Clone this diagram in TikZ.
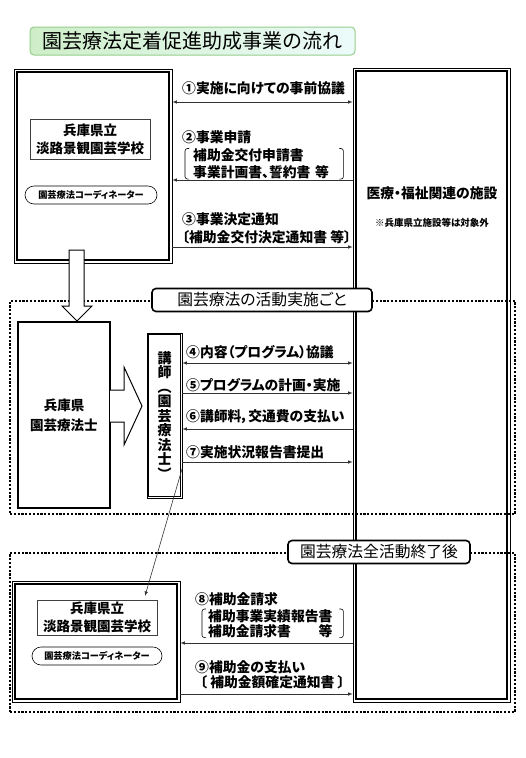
\documentclass[tikz,border=0pt]{standalone}
\usepackage{fontspec}
\setmainfont{Noto Sans CJK JP}[RawFeature=+palt]
\definecolor{vertclair}{RGB}{206,238,200}
\definecolor{cyanclair}{RGB}{236,251,250}
\definecolor{vertbord}{RGB}{150,205,140}
\definecolor{gristrait}{RGB}{50,50,50}

\begin{document}
\begin{tikzpicture}[x=1pt,y=-1pt]
		\tikzstyle{titre}=[draw=vertbord,rectangle,rounded corners=4,line width=1pt,left color=vertclair,right color=cyanclair,minimum width=325,minimum height=28,font=\fontsize{20}{22}\selectfont]
		\tikzstyle{etape}=[draw,rectangle,rounded corners=4,line width=1.6pt,fill=white,minimum height=23,font=\fontsize{15.8}{17}\selectfont]
		\tikzstyle{zone}=[draw,rectangle,line width=2.4pt,dash pattern=on 2.2pt off 1.6pt]
		\tikzstyle{cadre}=[draw,rectangle,line width=0.7pt]
		\tikzstyle{epais}=[line width=2pt]
		\tikzstyle{fin}=[line width=0.6pt]
		\tikzstyle{ecole}=[draw=black!75,rectangle,line width=0.6pt,inner sep=1,align=center,font=\fontsize{13.5}{18}\selectfont\bfseries]
		\tikzstyle{coord}=[draw,rectangle,rounded corners=9,line width=0.6pt,inner sep=1,font=\fontsize{9.2}{10}\selectfont\bfseries]
		\tikzstyle{texte}=[inner sep=0,align=left,font=\fontsize{13.8}{17}\selectfont\bfseries]
		\tikzstyle{lien}=[draw=gristrait,line width=0.6pt]
		\tikzstyle{crochet}=[line width=0.6pt,rounded corners=2.5]
		\tikzstyle{creux}=[draw,line width=1pt,fill=white]
		\useasboundingbox (0,0) rectangle (525,758);

		\node[titre] (T) at (192.5,41) {園芸療法定着促進助成事業の流れ};
		\node[zone,minimum width=505,minimum height=213] (Z1) at (262.5,407.5) {};
		\node[zone,minimum width=505,minimum height=159] (Z2) at (262.5,632.5) {};

		\node[cadre,minimum width=158,minimum height=194] (E1) at (93,166) {};
		\draw[epais] ([shift={(3.5,3.5)}]E1.north west) rectangle ([shift={(-3.5,-3.5)}]E1.south east);
		\node[ecole,minimum width=120,minimum height=40] (B1) at (90,139) {兵庫県立\\淡路景観園芸学校};
		\node[coord,minimum width=132,minimum height=18] (C1) at (91,195) {園芸療法コーディネーター};

		\node[cadre,minimum width=157,minimum height=634] (F) at (431.5,385) {};
		\draw[epais] ([shift={(3.5,3.5)}]F.north west) rectangle ([shift={(-3.5,-3.5)}]F.south east);
		\node[texte] (F1) at (432,193) {医療・福祉関連の施設};
		\node[texte,font=\fontsize{9.5}{11}\selectfont\bfseries] (F2) at (432,223) {※兵庫県立施設等は対象外};

		\node[cadre,line width=1.2pt,minimum width=92,minimum height=186,align=center,font=\fontsize{13.5}{20}\selectfont\bfseries] (H) at (64,415) {兵庫県\\園芸療法士};
		\node[cadre,line width=0.6pt,minimum width=35,minimum height=165,inner sep=0,align=center,font=\fontsize{14}{14.5}\selectfont\bfseries] (K) at (164.5,415.5) {講\\師\\︵\\園\\芸\\療\\法\\士\\︶};
		\draw[fin] ([shift={(2,2)}]K.north west) rectangle ([shift={(-2,-2)}]K.south east);

		\node[cadre,minimum width=168,minimum height=121] (E2) at (96,641.5) {};
		\draw[epais] ([shift={(3.5,3.5)}]E2.north west) rectangle ([shift={(-3.5,-3.5)}]E2.south east);
		\node[ecole,minimum width=120,minimum height=35] (B2) at (97,617.5) {兵庫県立\\淡路景観園芸学校};
		\node[coord,minimum width=130,minimum height=18] (C2) at (97,656) {園芸療法コーディネーター};

		\draw[creux] (69,250) -- (69,306) -- (62,306) -- (77,321) -- (92,306) -- (84,306) -- (84,250) -- cycle;
		\draw[creux] (110,390) -- (124,390) -- (124,367) -- (142,406) -- (124,445) -- (124,422) -- (110,422);

		\node[texte,anchor=west] (A1) at (182,88) {①実施に向けての事前協議};
		\draw[lien,latex-latex] (E1.east |- 0,102) -- (F.west |- 0,102);
		\node[texte,anchor=west] (A2) at (182,137) {②事業申請};
		\node[texte,anchor=north west,text width=142,inner xsep=8] (D2) at (185,148.5) {補助金交付申請書\\事業計画書、誓約書 等};
		\draw[crochet] ([xshift=4]D2.north west) -- (D2.north west) -- (D2.south west) -- ([xshift=4]D2.south west);
		\draw[crochet] ([xshift=-4]D2.north east) -- (D2.north east) -- (D2.south east) -- ([xshift=-4]D2.south east);
		\draw[lien,-latex] (F.west |- 0,180) -- (E1.east |- 0,180);
		\node[texte,anchor=west] (A3) at (182,219) {③事業決定通知};
		\node[texte,anchor=west] (D3) at (182,237) {〔補助金交付決定通知書 等〕};
		\draw[lien,-latex] (E1.east |- 0,247) -- (F.west |- 0,247);

		\node[texte,anchor=west] (A4) at (186,352) {④内容（プログラム）協議};
		\draw[lien,latex-latex] (K.east |- 0,363) -- (F.west |- 0,363);
		\node[texte,anchor=west] (A5) at (186,385) {⑤プログラムの計画・実施};
		\draw[lien,-latex] (K.east |- 0,393) -- (F.west |- 0,393);
		\node[texte,anchor=west] (A6) at (186,417) {⑥講師料，交通費の支払い};
		\draw[lien,-latex] (F.west |- 0,429) -- (K.east |- 0,429);
		\node[texte,anchor=west] (A7) at (186,452) {⑦実施状況報告書提出};
		\draw[lien,-latex] (K.east |- 0,462) -- (F.west |- 0,462);

		\coordinate (P) at (145,596);
		\draw[lien,-latex] (K.east |- 0,468) -- (P);

		\node[texte,anchor=west] (A8) at (195,599) {⑧補助金請求};
		\node[texte,anchor=north west,text width=129,inner xsep=6,font=\fontsize{13.8}{15}\selectfont\bfseries] (D8) at (202,609) {補助事業実績報告書\\補助金請求書　　等};
		\draw[crochet] ([xshift=4]D8.north west) -- (D8.north west) -- (D8.south west) -- ([xshift=4]D8.south west);
		\draw[crochet] ([xshift=-4]D8.north east) -- (D8.north east) -- (D8.south east) -- ([xshift=-4]D8.south east);
		\draw[lien,-latex] (F.west |- 0,643) -- (E2.east |- 0,643);
		\node[texte,anchor=west] (A9) at (195,667) {⑨補助金の支払い};
		\node[texte,anchor=west] (D9) at (200,682) {〔 補助金額確定通知書 〕};
		\draw[lien,-latex] (E2.east |- 0,694) -- (F.west |- 0,694);

		\node[etape,minimum width=220] (S1) at (262,300) {園芸療法の活動実施ごと};
		\node[etape,minimum width=182] (S2) at (379,552) {園芸療法全活動終了後};
\end{tikzpicture}
\end{document}
